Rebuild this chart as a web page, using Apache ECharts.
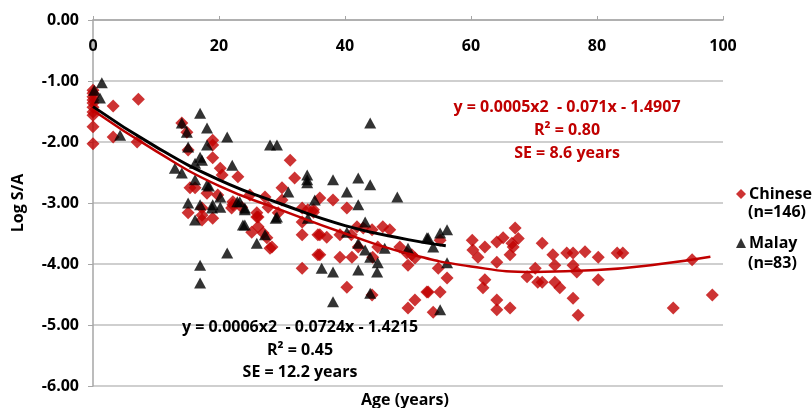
<!DOCTYPE html>
<html><head><meta charset="utf-8">
<script src="https://cdn.jsdelivr.net/npm/echarts@6/dist/echarts.min.js"></script>
<style>html,body{margin:0;padding:0;background:#fff}#c{width:812px;height:408px}</style>
</head><body><div id="c"></div>
<script>
// Chinese (age, log S/A)
const chinese = [
[0,-1.15],[0,-1.2],[0,-1.26],[0,-1.31],[0,-1.36],[0,-1.43],[0,-1.51],[0,-1.56],[0,-1.75],[0,-2.03],
[3.2,-1.41],[3.2,-1.92],[7.2,-1.3],[7,-2.0],
[14.1,-1.69],[14.9,-1.84],[19,-1.97],[15.1,-2.13],[19,-2.26],[20.2,-2.43],[20.5,-2.54],[23,-2.57],
[15.4,-2.75],[16.2,-2.75],[18.1,-2.84],[19.8,-2.87],[22.2,-2.98],[15.1,-3.16],[17.3,-3.2],[26,-3.16],
[23.6,-3.07],[22,-3.08],[17.3,-3.28],[17.3,-3.08],[19,-3.25],[25.2,-3.48],[26,-3.23],[26.2,-3.39],
[27,-3.49],[27.6,-3.57],[28.1,-3.74],[27.8,-3.07],[29.4,-3.16],[31.3,-2.3],[32,-2.59],[30,-2.75],
[30,-2.95],[27.3,-2.9],[24.9,-2.87],[19,-2.05],[22.2,-3.03],[26.2,-3.23],[28.4,-3.72],
[33.2,-3.08],[34.1,-3.11],[33.2,-3.31],[33.2,-3.52],[33.2,-4.07],[35,-3.11],[35.7,-3.52],[35.7,-3.85],
[36,-2.92],[38.1,-2.95],[40.3,-3.08],[35,-3.15],[41.9,-3.39],[42.9,-3.41],[44.3,-3.44],[46,-3.39],
[47.1,-3.44],[36,-3.52],[37.1,-3.56],[39.2,-3.52],[41,-3.52],[42.1,-3.72],[45.2,-3.72],[48.7,-3.72],
[36,-3.85],[39.2,-3.89],[41.1,-3.89],[44.4,-3.89],[50,-4.02],[51.1,-3.9],[40.3,-4.38],[44.3,-4.51],
[51.1,-4.59],[50,-4.72],[53,-4.46],[54,-4.79],[55.1,-4.46],[56.2,-4.23],[54.8,-4.07],[50.6,-3.85],
[49.8,-3.82],[55.1,-3.61],[53.2,-4.46],
[60.2,-3.61],[60.3,-3.77],[62.2,-3.72],[61.1,-3.89],[64.1,-3.64],[65.1,-3.57],[67,-3.41],[66.7,-3.72],
[66.2,-3.85],[64.1,-3.97],[62.2,-4.26],[61.9,-4.39],[64.1,-4.59],[64.1,-4.75],[66.2,-4.72],[68.9,-4.21],
[70.6,-4.3],[71.3,-3.66],[70.2,-4.07],[71.3,-4.3],[73,-3.85],[73.3,-4.02],[73.3,-4.3],[74.1,-4.39],
[75.2,-3.82],[76.2,-3.82],[76.2,-4.02],[76.8,-4.13],[76.2,-4.56],[77,-4.84],[78.1,-3.8],[80.2,-3.89],
[80.2,-4.26],[83.2,-3.82],[84.1,-3.82],[95.1,-3.93],[92.1,-4.72],[98.3,-4.51],[66.5,-3.66],[67.5,-3.58]
];
// Malay (age, log S/A)
const malay = [
[0.2,-1.15],[1.4,-1.03],[1.1,-1.28],[4.3,-1.89],
[14.1,-1.69],[17,-1.53],[18.1,-1.77],[14.9,-1.84],[21.3,-1.92],[15.1,-2.08],[18.1,-2.05],[13,-2.43],
[14.1,-2.51],[16.2,-2.35],[17,-2.25],[17.3,-2.3],[22.1,-2.38],[16.2,-2.62],[18.1,-2.7],[18.4,-2.72],
[20.2,-2.9],[23.3,-2.98],[24.1,-3.08],[15.1,-3.0],[17,-3.03],[18.9,-3.08],[20.2,-3.07],[16.2,-3.28],
[19,-3.03],[22.9,-2.98],[24.1,-3.11],[24.1,-3.36],[26,-3.66],[27.3,-3.52],[29,-3.25],[17,-4.02],
[17,-4.31],[21.3,-3.82],[28.1,-2.05],[29.2,-2.05],[34,-2.54],[34,-2.62],[34,-2.67],[31,-2.82],
[29.2,-3.23],[23.8,-3.36],[35.2,-2.95],[34.1,-3.25],
[44,-1.69],[38.1,-2.62],[42.1,-2.59],[44,-2.7],[40.3,-2.82],[48.3,-2.9],[42.1,-3.03],[43.2,-3.31],
[40.3,-3.48],[42.1,-3.66],[43.2,-3.77],[44,-3.89],[45.2,-3.98],[45.1,-4.13],[36.3,-4.07],[38.1,-4.13],
[42.1,-4.1],[44,-4.48],[38.1,-4.62],[53,-3.57],[50,-3.74],[46.3,-3.74],
[55.1,-3.49],[56.2,-3.44],[53.2,-3.57],[54,-3.72],[56.2,-3.98],[55.1,-4.75]
];
// Trend lines
const chineseTrend = [[0,-1.48],[10,-2.15],[20,-2.72],[30,-3.12],[40,-3.5],[50,-3.83],[60,-4.04],[70,-4.13],[80,-4.1],[90,-4.0],[98,-3.88]];
const malayTrend = [[0,-1.42],[10,-2.08],[20,-2.62],[30,-3.02],[40,-3.37],[50,-3.6],[56,-3.7]];
const xTicks = [0,20,40,60,80,100];
const yTicks = [0,-1,-2,-3,-4,-5,-6];
const chineseEq = ['y = 0.0005x2  - 0.071x - 1.4907','R² = 0.80','SE = 8.6 years'];
const malayEq = ['y = 0.0006x2  - 0.0724x - 1.4215','R² = 0.45','SE = 12.2 years'];

const RED = '#c00000';
const FONT = '"Open Sans", sans-serif';
const chart = echarts.init(document.getElementById('c'));
const txt = (t, x, y, color, align) => ({type:'text', x: x, y: y, z: 10, style:{text:t, fill:color, font:'bold 16px ' + FONT, textAlign: align || 'center', textVerticalAlign:'middle'}});
chart.setOption({
  animation:false,
  grid:{left:93, right:89, top:20, bottom:22},
  xAxis:{type:'value', position:'top', min:0, max:100, interval:20,
    axisLine:{lineStyle:{color:'#a6a6a6', width:1.5}},
    axisTick:{show:true, length:4, lineStyle:{color:'#a6a6a6'}},
    axisLabel:{inside:true, margin:18, color:'#000', fontWeight:'bold', fontSize:16, fontFamily:FONT,
      formatter:v=> xTicks.includes(v)? String(v):''},
    splitLine:{show:false}},
  yAxis:{type:'value', min:-6, max:0, interval:1,
    name:'Log S/A', nameLocation:'middle', nameRotate:90, nameGap:67,
    nameTextStyle:{color:'#000', fontWeight:'bold', fontSize:16, fontFamily:FONT},
    axisLine:{show:true, lineStyle:{color:'#a6a6a6', width:1.5}},
    axisTick:{show:true, length:5, lineStyle:{color:'#a6a6a6'}},
    axisLabel:{margin:14, color:'#000', fontWeight:'bold', fontSize:16, fontFamily:FONT,
      formatter:v=> yTicks.includes(v)? v.toFixed(2):''},
    splitLine:{lineStyle:{color:'#bfbfbf', width:1.5}}},
  legend:{orient:'vertical', left:731, top:181, itemGap:33, itemWidth:10, itemHeight:10,
    data:['Chinese','Malay'],
    textStyle:{color:'#000', fontWeight:'bold', fontSize:16, fontFamily:FONT, padding:[0,0,0,-2]}},
  series:[
    {name:'Chinese', type:'scatter', data:chinese, symbol:'diamond', symbolSize:[13,13], itemStyle:{color:RED}, z:2},
    {name:'Malay', type:'scatter', data:malay, symbol:'triangle', symbolSize:[12,11], itemStyle:{color:'#000'}, z:3},
    {name:'ChineseTrend', type:'line', data:chineseTrend, smooth:true, symbol:'none', lineStyle:{color:RED, width:2.5}, z:4},
    {name:'MalayTrend', type:'line', data:malayTrend, smooth:true, symbol:'none', lineStyle:{color:'#000', width:3}, z:5}
  ],
  graphic:[
    txt(chineseEq[0], 567, 107, RED), txt(chineseEq[1], 567, 130, RED), txt(chineseEq[2], 567, 153, RED),
    txt(malayEq[0], 300, 327, '#000'), txt(malayEq[1], 300, 350, '#000'), txt(malayEq[2], 300, 372, '#000'),
    txt('(n=146)', 748, 212, '#000', 'left'), txt('(n=83)', 748, 263, '#000', 'left'),
    txt('Age (years)', 405, 400, '#000')
  ]
});
</script></body></html>
